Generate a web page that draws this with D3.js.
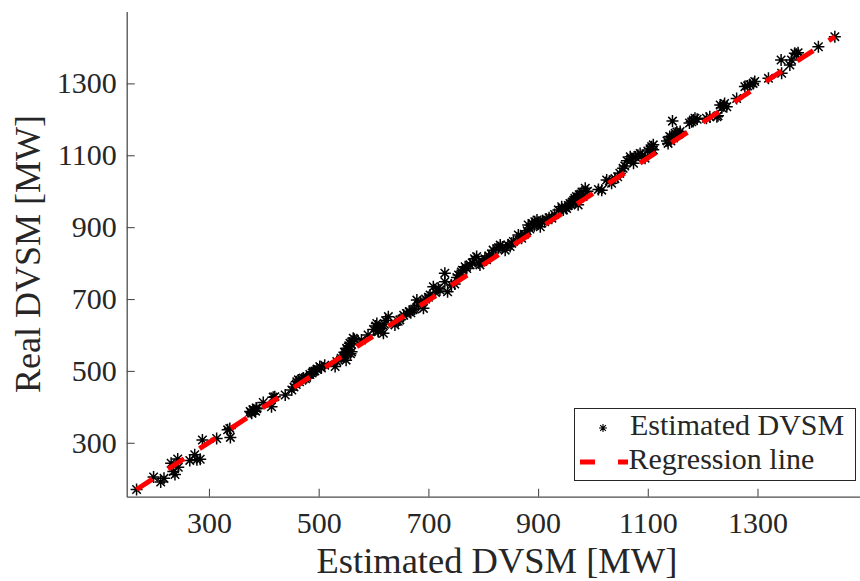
<!DOCTYPE html>
<html>
<head>
<meta charset="utf-8">
<script src="https://cdn.jsdelivr.net/npm/d3@7"></script>
<style>
  html, body { margin: 0; padding: 0; background: #fff; }
  svg { display: block; }
  text { font-family: "Liberation Serif", "DejaVu Serif", "Noto Serif", serif; fill: #262626; }
</style>
</head>
<body>
<svg id="chart" width="860" height="581"></svg>
<script>
// Estimated vs. real DVSM samples [MW]
const estimated = [
  168, 199, 212, 218, 231, 235, 238, 243, 244, 265, 274, 278, 284, 288, 314, 334, 338, 339,
  375, 381, 387, 378, 399, 414, 417, 383, 377, 386,
  420, 439, 451, 460, 469, 478, 490, 502, 511, 530, 533, 548, 551, 557, 563, 560, 578, 590,
  606, 609, 618, 627, 639, 648, 660, 672, 679, 682,
  455, 465, 472, 484, 505, 497, 545, 553, 555, 562, 550, 558, 600, 612, 604, 622, 645, 655, 665,
  691, 703, 709, 721, 730, 730, 742, 755, 767, 776, 788, 794, 806, 818, 831, 840, 849, 864, 870,
  882, 894, 904, 898, 925, 937, 943,
  686, 695, 700, 713, 718, 760, 770, 780, 784, 798, 810, 825, 835, 845, 855,
  875, 885, 890, 900, 908, 915, 930,
  946, 958, 967, 973, 986, 982, 1016, 1025, 1034, 1049, 1055, 1068, 1074, 1086, 1095, 1107, 1110,
  1137, 1140, 1150, 1159, 1145, 1180, 1186, 1110,
  950, 955, 962, 965, 970, 975, 980, 990, 1030, 1040, 1062, 1070, 1078, 1090, 1100,
  1142, 1147, 1155, 1153, 1183, 1190,
  1207, 1213, 1226, 1232, 1244, 1262, 1277, 1286, 1295, 1320, 1344, 1343, 1359, 1362, 1368, 1374,
  1411, 1441, 1238, 1228, 1282, 1292, 1371,
  380, 385, 459, 463, 476, 488, 493, 541, 547, 552, 559, 565, 608, 614, 620, 668, 675,
  735, 748, 752, 762, 792, 803, 815, 828, 852, 868, 880, 893, 897, 912, 920,
  952, 960, 968, 978, 1010, 1045, 1058, 1082, 1104, 1135, 1143, 1157, 1176, 1235, 1240
];
const real = [
  170, 205, 191, 201, 243, 220, 212, 255, 232, 251, 267, 253, 254, 308, 312, 336, 340, 315,
  387, 391, 395, 382, 412, 400, 427, 390, 385, 397,
  428, 433, 447, 470, 477, 482, 498, 512, 516, 512, 526, 544, 563, 577, 591, 553, 586, 600,
  632, 609, 605, 651, 628, 642, 660, 670, 697, 683,
  455, 470, 480, 490, 508, 505, 540, 557, 570, 582, 530, 548, 615, 620, 625, 640, 638, 655, 665,
  674, 711, 734, 725, 772, 748, 739, 767, 790, 795, 818, 795, 809, 836, 850, 836, 846, 878, 869,
  906, 915, 901, 920, 925, 948, 957,
  690, 700, 705, 718, 730, 775, 785, 800, 812, 805, 820, 840, 845, 850, 860,
  880, 895, 910, 912, 918, 922, 935,
  948, 966, 980, 962, 1008, 985, 1003, 1031, 1022, 1050, 1064, 1096, 1078, 1105, 1092, 1124, 1115,
  1133, 1152, 1161, 1166, 1195, 1193, 1203, 1129,
  955, 960, 970, 975, 985, 990, 998, 1000, 1028, 1035, 1085, 1090, 1095, 1100, 1112,
  1140, 1148, 1158, 1165, 1198, 1200,
  1203, 1207, 1207, 1240, 1235, 1258, 1291, 1296, 1305, 1314, 1328, 1365, 1351, 1365, 1384, 1385,
  1402, 1430, 1238, 1210, 1293, 1300, 1381,
  392, 388, 462, 475, 478, 494, 500, 535, 552, 560, 575, 588, 612, 618, 630, 662, 672,
  720, 742, 760, 780, 800, 812, 825, 843, 855, 874, 890, 904, 910, 915, 926,
  952, 964, 972, 992, 1005, 1040, 1070, 1100, 1118, 1140, 1150, 1160, 1190, 1232, 1244
];

// Fitted regression line end points
const regEstimated = [168, 1441];
const regReal = [170, 1430];

const tickValues = [300, 500, 700, 900, 1100, 1300];
const xLabel = "Estimated DVSM [MW]";
const yLabel = "Real DVSM [MW]";
const legendLabels = ["Estimated DVSM", "Regression line"];

const serif = '"Liberation Serif", "DejaVu Serif", "Noto Serif", serif';
const svg = d3.select("#chart");

const x = d3.scaleLinear().domain([150, 1500]).range([126.7, 867.2]);
const y = d3.scaleLinear().domain([150, 1500]).range([496.7, 11.5]);

const axisColor = "#4d4d4d";

// Asterisk marker: a plus combined with a cross
function asterisk(r) {
  const d = r * Math.SQRT1_2;
  return `M${-r},0L${r},0M0,${-r}L0,${r}M${-d},${-d}L${d},${d}M${-d},${d}L${d},${-d}`;
}

// Axes (ticks point inward)
const gx = svg.append("g")
  .attr("transform", `translate(0,${y.range()[0]})`)
  .call(d3.axisBottom(x).tickValues(tickValues).tickFormat(d3.format("d"))
    .tickSizeInner(-8).tickSizeOuter(0).tickPadding(15));
const gy = svg.append("g")
  .attr("transform", `translate(${x.range()[0]},0)`)
  .call(d3.axisLeft(y).tickValues(tickValues).tickFormat(d3.format("d"))
    .tickSizeInner(-8).tickSizeOuter(0).tickPadding(10));

[gx, gy].forEach(g => {
  g.attr("font-family", serif);
  g.select(".domain").attr("stroke", axisColor).attr("stroke-width", 1.3);
  g.selectAll(".tick line").attr("stroke", axisColor).attr("stroke-width", 1.1);
  g.selectAll(".tick text").attr("font-size", 30).attr("fill", "#262626")
    .style("font-family", serif);
});

// Scatter points
svg.append("g")
  .selectAll("path")
  .data(estimated.map((e, i) => [e, real[i]]))
  .join("path")
  .attr("transform", d => `translate(${x(d[0])},${y(d[1])})`)
  .attr("d", asterisk(6))
  .attr("fill", "none")
  .attr("stroke", "#000")
  .attr("stroke-width", 1.5);

// Regression line
svg.append("line")
  .attr("x1", x(regEstimated[0])).attr("y1", y(regReal[0]))
  .attr("x2", x(regEstimated[1])).attr("y2", y(regReal[1]))
  .attr("stroke", "#ff0000")
  .attr("stroke-width", 5)
  .attr("stroke-dasharray", "19,18.5");

// Axis titles
svg.append("text")
  .attr("x", (x.range()[0] + 867.2) / 2)
  .attr("y", 573)
  .attr("text-anchor", "middle")
  .attr("font-size", 36.5)
  .style("font-family", serif)
  .text(xLabel);
svg.append("text")
  .attr("transform", `translate(40,${(y.range()[0] + y.range()[1]) / 2}) rotate(-90)`)
  .attr("text-anchor", "middle")
  .attr("font-size", 36)
  .style("font-family", serif)
  .text(yLabel);

// Legend
const lg = svg.append("g");
lg.append("rect")
  .attr("x", 574.5).attr("y", 408.5)
  .attr("width", 281).attr("height", 72)
  .attr("fill", "#fff")
  .attr("stroke", "#262626").attr("stroke-width", 1);
lg.append("path")
  .attr("transform", "translate(603,428)")
  .attr("d", asterisk(4))
  .attr("fill", "none").attr("stroke", "#000").attr("stroke-width", 1.1);
lg.append("text")
  .attr("x", 630).attr("y", 435)
  .attr("font-size", 30)
  .style("font-family", serif)
  .text(legendLabels[0]);
lg.append("line")
  .attr("x1", 580).attr("y1", 462).attr("x2", 628).attr("y2", 462)
  .attr("stroke", "#ff0000").attr("stroke-width", 5)
  .attr("stroke-dasharray", "15,23");
lg.append("text")
  .attr("x", 628.5).attr("y", 468.5)
  .attr("font-size", 30)
  .style("font-family", serif)
  .text(legendLabels[1]);
</script>
</body>
</html>
